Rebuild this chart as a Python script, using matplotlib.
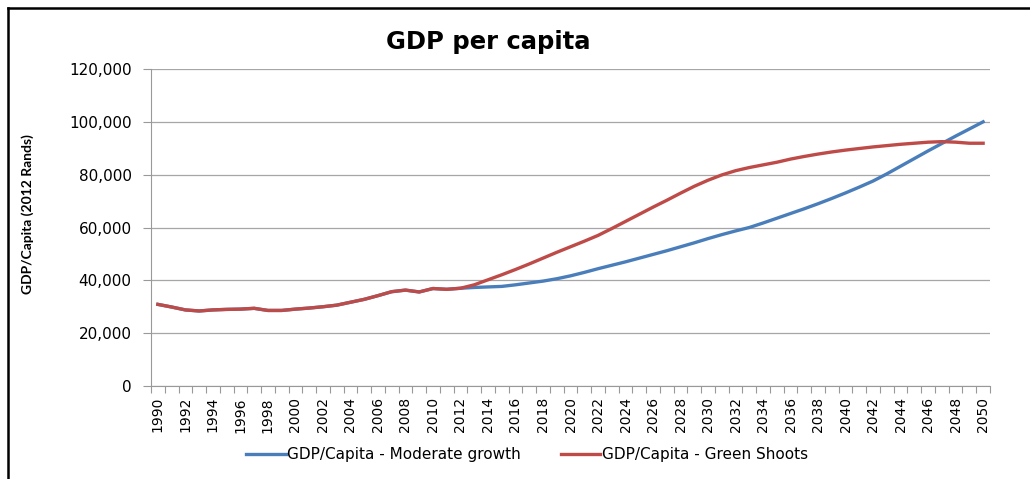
import matplotlib.pyplot as plt
from matplotlib.lines import Line2D
from matplotlib.ticker import FuncFormatter
import numpy as np

# GDP per capita in 2012 Rands, 1990-2050

years = list(range(1990, 2051))

moderate_growth = [
    30900, 29900, 28800, 28400, 28800, 29000, 29100, 29400, 28600, 28600,
    29100, 29500, 30000, 30600, 31700, 32800, 34200, 35700, 36300, 35600,
    36900, 36600, 37000, 37300, 37500, 37700, 38300, 39000, 39700, 40600,
    41700, 43000, 44400, 45700, 47000, 48400, 49800, 51200, 52700, 54200,
    55800, 57300, 58700, 60000, 61700, 63500, 65300, 67100, 69000, 71000,
    73100, 75300, 77600, 80300, 83200, 86100, 89000, 91800, 94600, 97300,
    100000,
]

green_shoots = [
    30900, 29900, 28800, 28400, 28800, 29000, 29100, 29400, 28600, 28600,
    29100, 29500, 30000, 30600, 31700, 32800, 34200, 35700, 36300, 35600,
    36900, 36600, 37000, 38300, 40200, 42100, 44100, 46200, 48400, 50600,
    52700, 54800, 57000, 59600, 62300, 65000, 67700, 70300, 73000, 75600,
    77900, 79900, 81500, 82700, 83700, 84700, 85900, 86900, 87800, 88600,
    89300, 89900, 90500, 91000, 91500, 91900, 92300, 92500, 92300, 91900,
    91900,
]

series_names = ["GDP/Capita - Moderate growth", "GDP/Capita - Green Shoots"]
colors = ["#4a7ebb", "#be4b48"]

fig = plt.figure(figsize=(10.30, 4.79), dpi=100)
ax = fig.add_axes([151 / 1030, 1 - 386 / 479, 839 / 1030, 317 / 479])

x = np.arange(len(years))
ax.plot(x, moderate_growth, color=colors[0], lw=2.4, label=series_names[0])
ax.plot(x, green_shoots, color=colors[1], lw=2.4, label=series_names[1])

ax.set_xlim(-0.5, len(years) - 0.5)
ax.set_ylim(0, 120000)
ax.set_yticks(np.arange(0, 120001, 20000))
ax.yaxis.set_major_formatter(FuncFormatter(lambda v, p: f"{int(v):,}"))

# labels on every other year, small tick marks between categories
ax.set_xticks(x[::2])
ax.set_xticklabels([str(y) for y in years[::2]], rotation=90)
ax.set_xticks(np.arange(-0.5, len(years), 1.0), minor=True)
ax.tick_params(axis="x", which="major", length=0, pad=8, labelsize=10)
ax.tick_params(axis="x", which="minor", length=5, color="#999999", width=0.8)
ax.tick_params(axis="y", length=6, pad=8, color="#999999", width=0.8, labelsize=11)

ax.grid(axis="y", color="#a6a6a6", lw=0.9)
ax.set_axisbelow(True)
for side in ["top", "right"]:
    ax.spines[side].set_visible(False)
for side in ["left", "bottom"]:
    ax.spines[side].set_color("#999999")
    ax.spines[side].set_linewidth(0.8)

fig.text(488 / 1030, 1 - 42 / 479, "GDP per capita", ha="center", va="center",
         fontsize=17.5, fontweight="bold")
fig.text(28 / 1030, 1 - 214 / 479, "GDP/Capita (2012 Rands)", rotation=90,
         ha="center", va="center", fontsize=10, fontweight="bold", family="Lato")

fig.legend(loc="center", bbox_to_anchor=(527 / 1030, 1 - 455 / 479), ncol=2,
           frameon=False, fontsize=11, handlelength=2.6, handletextpad=0.1,
           columnspacing=2.6)

# outer frame (runs off the right and bottom edges)
fig.add_artist(Line2D([8 / 1030, 8 / 1030], [0, 1 - 8 / 479], color="black", lw=1.8))
fig.add_artist(Line2D([8 / 1030, 1], [1 - 8 / 479, 1 - 8 / 479], color="black", lw=1.8))

fig.savefig("out.png", dpi=100)
